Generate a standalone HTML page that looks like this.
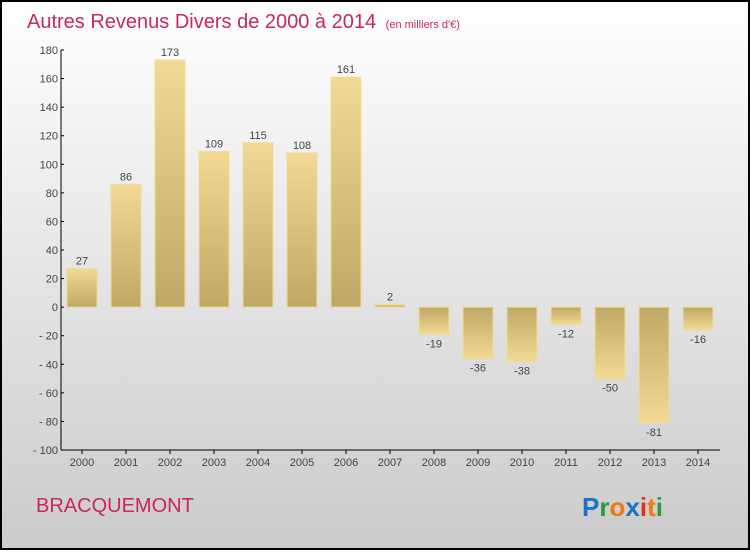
<!DOCTYPE html>
<html><head><meta charset="utf-8"><style>
html,body{margin:0;padding:0;}
body{width:750px;height:550px;overflow:hidden;font-family:"Liberation Sans",sans-serif;}
</style></head><body>
<svg width="750" height="550" xmlns="http://www.w3.org/2000/svg">
<defs>
<linearGradient id="bg" x1="0" y1="0" x2="0" y2="1"><stop offset="0" stop-color="#ffffff"/><stop offset="1" stop-color="#cbcbcb"/></linearGradient>
<linearGradient id="gp" x1="0" y1="0" x2="0" y2="1"><stop offset="0" stop-color="#f2da95"/><stop offset="1" stop-color="#bfa865"/></linearGradient>
<linearGradient id="gn" x1="0" y1="1" x2="0" y2="0"><stop offset="0" stop-color="#f2da95"/><stop offset="1" stop-color="#bfa865"/></linearGradient>
</defs>
<rect x="1" y="1" width="748" height="548" fill="url(#bg)" stroke="#000" stroke-width="2"/>
<text x="27" y="28" font-size="20" fill="#c8285a">Autres Revenus Divers de 2000 à 2014 <tspan font-size="11" dx="4">(en milliers d'€)</tspan></text>
<text x="36" y="512" font-size="20" fill="#c8285a">BRACQUEMONT</text>
<g font-size="26" font-weight="bold" font-family="'Liberation Sans',sans-serif">
<text x="582" y="516"><tspan fill="#1a73c8">P</tspan><tspan fill="#2a9a3a">r</tspan><tspan fill="#f07a10">o</tspan><tspan fill="#1a73c8">x</tspan><tspan fill="#e03020">i</tspan><tspan fill="#f07a10">t</tspan><tspan fill="#2a9a3a">i</tspan></text>
</g>
<g id="plot"></g>
</svg>
<script>
const years=["2000","2001","2002","2003","2004","2005","2006","2007","2008","2009","2010","2011","2012","2013","2014"];
const values=[27,86,173,109,115,108,161,2,-19,-36,-38,-12,-50,-81,-16];
const yTicks=[180,160,140,120,100,80,60,40,20,0,-20,-40,-60,-80,-100];
const NS="http://www.w3.org/2000/svg";
const plotG=document.getElementById('plot');
const yMin=-100,yMax=180,pTop=50,pBot=450,pLeft=61,pRight=720;
const ys=v=>pBot-(v-yMin)/(yMax-yMin)*(pBot-pTop);
const xs=i=>82+i*44;
function mk(t,a){const e=document.createElementNS(NS,t);for(const k in a)e.setAttribute(k,a[k]);plotG.appendChild(e);return e;}
let ax=mk('line',{x1:pLeft,y1:pTop,x2:pLeft,y2:pBot,stroke:'#000'});


let bx=mk('line',{x1:pLeft,y1:pBot,x2:pRight,y2:pBot,stroke:'#000'});


yTicks.forEach(v=>{
 mk('line',{x1:pLeft,y1:ys(v),x2:pLeft+3,y2:ys(v),stroke:'#000'});
 const t=mk('text',{x:pLeft-3,y:ys(v)+4,'font-size':11,'text-anchor':'end',fill:'#444'});
 t.textContent=String(v).replace('-','- ');
 
 
});
years.forEach((yr,i)=>{
 mk('line',{x1:xs(i),y1:pBot,x2:xs(i),y2:pBot+4,stroke:'#000'});
 const t=mk('text',{x:xs(i),y:pBot+16,'font-size':11,'text-anchor':'middle',fill:'#444'});
 t.textContent=yr;
 
 
 const v=values[i];
 const y0=ys(0),y1=ys(v);
 const r=mk('rect',{x:xs(i)-15,y:Math.min(y0,y1),width:30,height:Math.max(1,Math.abs(y1-y0)),fill:v>=0?'url(#gp)':'url(#gn)',stroke:'#eedc9a','stroke-width':1});
 
 
 const l=mk('text',{x:xs(i),y:v>=0?y1-4:y1+13,'font-size':11,'text-anchor':'middle',fill:'#444'});
 l.textContent=String(v);
 
 
});
</script>
</body></html>
